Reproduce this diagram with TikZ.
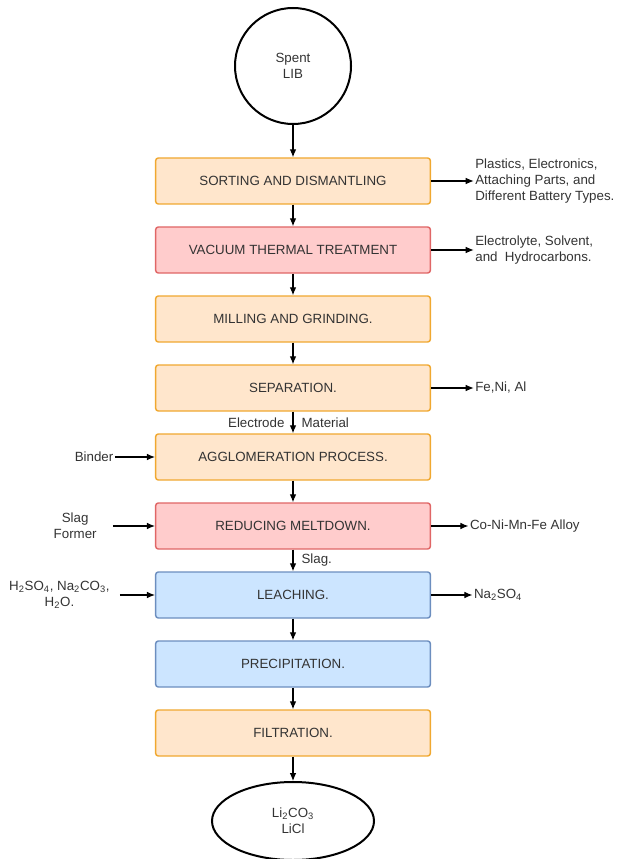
\documentclass[tikz,border=0pt]{standalone}
\usepackage{fontspec}
\setmainfont{Liberation Sans}
\usetikzlibrary{arrows.meta,positioning,shapes.geometric}
\definecolor{boxorange}{HTML}{FFE6CC}
\definecolor{lineorange}{HTML}{F0A830}
\definecolor{boxred}{HTML}{FFCCCC}
\definecolor{linered}{HTML}{E06666}
\definecolor{boxblue}{HTML}{CCE5FF}
\definecolor{lineblue}{HTML}{6C8EBF}
\definecolor{txt}{HTML}{333333}

\begin{document}
\begin{tikzpicture}[x=0.75pt,y=-0.75pt,font=\fontsize{10}{12}\selectfont,>={Latex[length=6pt,width=5pt]},node distance=16.15pt,
  s/.style={draw=lineorange,fill=boxorange,line width=1.1pt,rounded corners=2pt,minimum width=206pt,minimum height=34.5pt,text=txt},
  rbox/.style={s,draw=linered,fill=boxred},
  bbox/.style={s,draw=lineblue,fill=boxblue},
  side/.style={align=left,inner sep=1pt,text=txt},
  lab/.style={align=center,inner sep=1pt,text=txt},
  flow/.style={->,line width=0.8pt}]
\useasboundingbox (0,0) rectangle (619,859);
\node[circle,draw,line width=1.5pt,minimum size=87pt,align=center,text=txt] (lib) at (293,66) {Spent\\LIB};
\node[s,below=24.2pt of lib] (sort) {SORTING AND DISMANTLING};
\node[rbox,below=of sort] (vac) {VACUUM THERMAL TREATMENT};
\node[s,below=of vac] (mill) {MILLING AND GRINDING.};
\node[s,below=of mill] (sep) {SEPARATION.};
\node[s,below=of sep] (agg) {AGGLOMERATION PROCESS.};
\node[rbox,below=of agg] (melt) {REDUCING MELTDOWN.};
\node[bbox,below=of melt] (leach) {LEACHING.};
\node[bbox,below=of leach] (prec) {PRECIPITATION.};
\node[s,below=of prec] (filt) {FILTRATION.};
\node[ellipse,draw,line width=1.5pt,minimum width=121.5pt,minimum height=58.5pt,align=center,text=txt,below=18.2pt of filt] (prod) {Li\textsubscript{2}CO\textsubscript{3}\\LiCl};
% outputs on the right
\node[side,right=32pt of sort] (waste) {Plastics, Electronics,\\Attaching Parts, and\\Different Battery Types.};
\node[side,right=32pt of vac] (gas) {Electrolyte, Solvent,\\and \ Hydrocarbons.};
\node[side,right=32pt of sep] (metal) {Fe,Ni, Al};
\node[side,right=28pt of melt] (alloy) {Co-Ni-Mn-Fe Alloy};
\node[side,right=31pt of leach] (salt) {Na\textsubscript{2}SO\textsubscript{4}};
% inputs on the left
\node[lab,left=30pt of agg] (bind) {Binder};
\node[lab,inner xsep=12pt,left=31.5pt of melt] (former) {Slag\\Former};
\node[lab,inner xsep=7.5pt,left=26.25pt of leach] (chem) {H\textsubscript{2}SO\textsubscript{4}, Na\textsubscript{2}CO\textsubscript{3},\\H\textsubscript{2}O.};
% main line
\draw[flow] (lib)--(sort); \draw[flow] (sort)--(vac); \draw[flow] (vac)--(mill);
\draw[flow] (mill)--(sep);
\draw[flow] (sep)-- node[lab,left=5pt]{Electrode} node[lab,right=5pt]{Material} (agg);
\draw[flow] (agg)--(melt);
\draw[flow] (melt)-- node[lab,right=5pt]{Slag.} (leach);
\draw[flow] (leach)--(prec); \draw[flow] (prec)--(filt); \draw[flow] (filt)--(prod);
\draw[flow] (sort)--(waste); \draw[flow] (vac)--(gas); \draw[flow] (sep)--(metal);
\draw[flow] (melt)--(alloy); \draw[flow] (leach)--(salt);
\draw[flow] (bind)--(agg); \draw[flow] (former)--(melt); \draw[flow] (chem)--(leach);
\end{tikzpicture}
\end{document}
